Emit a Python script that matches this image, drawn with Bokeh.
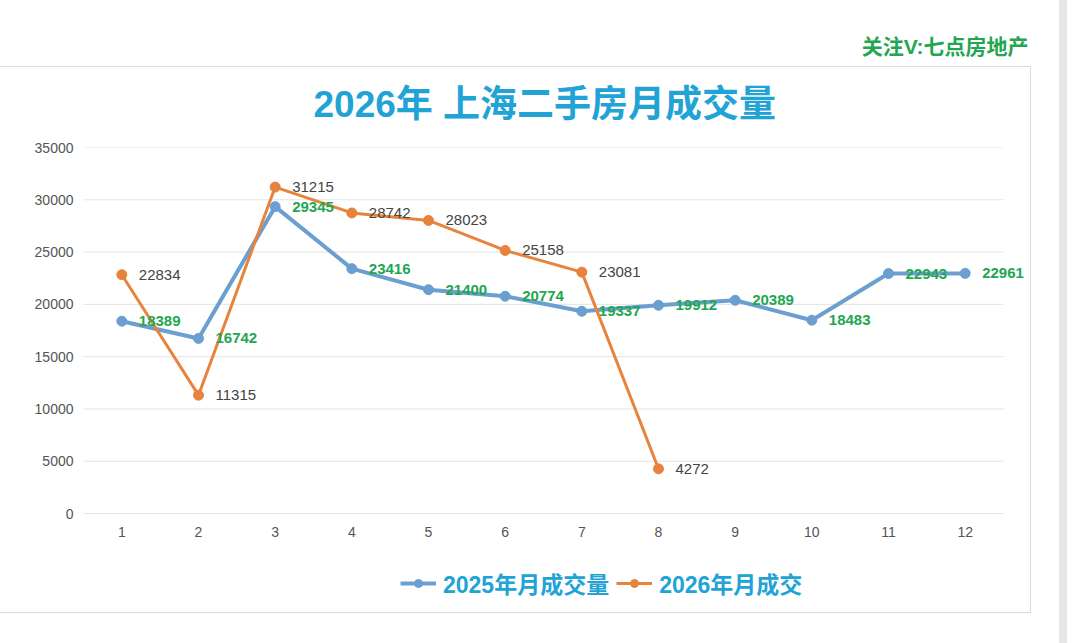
from bokeh.plotting import figure
from bokeh.models import (ColumnDataSource, Legend, LegendItem, FixedTicker,
                          Range1d, Title, InlineStyleSheet)
from bokeh.core.properties import value
from bokeh.embed import file_html
from bokeh.resources import INLINE

months = [1, 2, 3, 4, 5, 6, 7, 8, 9, 10, 11, 12]
sales_2025 = [18389, 16742, 29345, 23416, 21400, 20774, 19337, 19912, 20389, 18483, 22943, 22961]
months_2026 = [1, 2, 3, 4, 5, 6, 7, 8]
sales_2026 = [22834, 11315, 31215, 28742, 28023, 25158, 23081, 4272]
y_ticks = [0, 5000, 10000, 15000, 20000, 25000, 30000, 35000]

title_text = "2026年 上海二手房月成交量"
watermark_text = "关注V:七点房地产"
label_2025 = "2025年月成交量"
label_2026 = "2026年月成交"

BLUE = "#6a9fd0"
ORANGE = "#e8833e"
CYAN = "#22a3d6"
GREEN = "#22a651"
MIX = "Liberation Sans, Noto Sans CJK SC"
NUM = "Liberation Sans"

# layout geometry (pixels)
PX_PER_MONTH = 920 / 12          # plot area 920 px wide for 12 months
PX_PER_UNIT = 366 / 35000        # 0..35000 spans 366 px
FRAME_W, FRAME_H = 960, 460       # frame extended right/down to hold labels & legend
x_start = 0.5
x_end = x_start + FRAME_W / PX_PER_MONTH
y_top = 35000
y_bottom = y_top - FRAME_H / PX_PER_UNIT

p = figure(frame_width=FRAME_W, frame_height=FRAME_H, output_backend="svg",
           toolbar_location=None, title=None,
           x_range=Range1d(x_start, x_end), y_range=Range1d(y_bottom, y_top),
           min_border_left=83, min_border_right=29, min_border_top=147, min_border_bottom=0,
           background_fill_color="white", border_fill_color="white", outline_line_color=None)

# card frame and right strip (page decoration)
p.stylesheets = [InlineStyleSheet(css="""
:host::after { content: ""; position: absolute; left: -1px; top: 66px; width: 1030px;
  height: 545px; border: 1.5px solid #dcdcdc; pointer-events: none; z-index: 10; }
:host::before { content: ""; position: absolute; left: 1059px; top: 0px; width: 8px;
  height: 643px; background: #e6e6e6; pointer-events: none; z-index: 10; }
""")]

p.xgrid.grid_line_color = None
p.ygrid.grid_line_color = None

# horizontal gridlines over the 12-month plot area only
p.segment(x0=[x_start] * len(y_ticks), x1=[12.5] * len(y_ticks), y0=y_ticks, y1=y_ticks,
          line_color="#e3e3e3", line_width=1)

for ax in (p.xaxis[0], p.yaxis[0]):
    ax.axis_line_color = None
    ax.major_tick_line_color = None
    ax.minor_tick_line_color = None
    ax.major_tick_out = 0
    ax.major_tick_in = 0
    ax.major_label_text_color = "#555555"
    ax.major_label_text_font = NUM
    ax.major_label_text_font_size = "14px"
p.xaxis.ticker = FixedTicker(ticks=months)
p.yaxis.ticker = FixedTicker(ticks=y_ticks)
p.xaxis.fixed_location = 0
p.xaxis.major_label_standoff = 13
p.yaxis.major_label_standoff = 10

src25 = ColumnDataSource(dict(x=months, y=sales_2025, t=[str(v) for v in sales_2025]))
src26 = ColumnDataSource(dict(x=months_2026, y=sales_2026, t=[str(v) for v in sales_2026]))

l25 = p.line("x", "y", source=src25, line_color=BLUE, line_width=4)
s25 = p.scatter("x", "y", source=src25, size=10, fill_color=BLUE, line_color=BLUE)
l26 = p.line("x", "y", source=src26, line_color=ORANGE, line_width=3)
s26 = p.scatter("x", "y", source=src26, size=10, fill_color=ORANGE, line_color=ORANGE)

p.text("x", "y", text="t", source=src25, x_offset=17, text_baseline="middle",
       text_color=GREEN, text_font=value(NUM), text_font_style="bold",
       text_font_size="15px")
p.text("x", "y", text="t", source=src26, x_offset=17, text_baseline="middle",
       text_color="#444444", text_font=value(NUM), text_font_size="15px")

p.add_layout(Title(text=title_text, align="left", offset=230, text_color=CYAN, text_font=MIX,
                   text_font_style="bold", text_font_size="37px", standoff=46), "above")
p.add_layout(Title(text=watermark_text, align="right", offset=15, text_color=GREEN,
                   text_font=MIX, text_font_style="bold", text_font_size="21px",
                   standoff=2), "above")

legend = Legend(items=[LegendItem(label=label_2025, renderers=[l25, s25]),
                       LegendItem(label=label_2026, renderers=[l26, s26])],
                orientation="horizontal", location=(317, 7),
                label_text_font=MIX, label_text_font_style="bold",
                label_text_font_size="23px", label_text_color=CYAN,
                glyph_width=36, glyph_height=20, spacing=7, label_standoff=7,
                border_line_color=None, background_fill_alpha=0, padding=0, margin=0)
p.add_layout(legend, "center")

open("out.html", "w").write(file_html(p, INLINE))
